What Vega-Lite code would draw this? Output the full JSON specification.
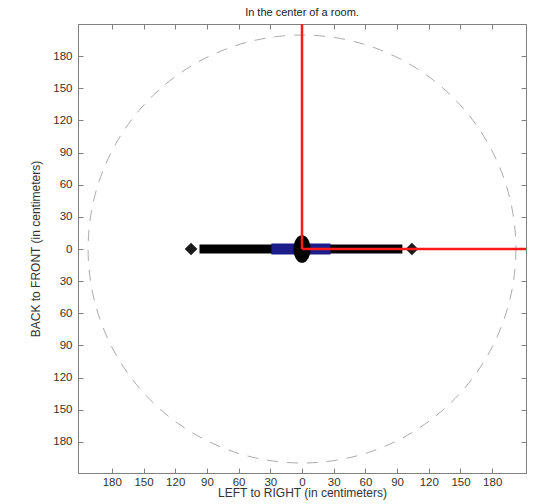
{
  "$schema": "https://vega.github.io/schema/vega-lite/v6.json",
  "width": 448,
  "height": 449,
  "autosize": "none",
  "padding": {"left": 78, "top": 24, "right": 7, "bottom": 31},
  "background": "white",
  "title": {"text": "In the center of a room.", "fontSize": 11, "fontWeight": "normal", "font": "Liberation Sans", "color": "#222222", "offset": 6},
  "config": {
    "view": {"stroke": "#808080", "strokeWidth": 1},
    "axis": {
      "domainColor": "#808080",
      "tickColor": "#808080",
      "labelColor": "#333333",
      "labelFont": "Liberation Sans",
      "labelFontSize": 11.5,
      "titleFont": "Liberation Sans",
      "titleFontSize": 12,
      "titleFontWeight": "normal",
      "titleColor": "#333333",
      "grid": false,
      "tickSize": -5
    }
  },
  "datasets": {
    "segs": [
      {"part": "body", "x": -97, "x2": 95, "y": 0, "y2": 0},
      {"part": "base", "x": -29, "x2": 27, "y": 0, "y2": 0}
    ],
    "axes": [
      {"x": 0, "y": 0, "x2": 0, "y2": 210},
      {"x": 0, "y": 0, "x2": 212, "y2": 0}
    ],
    "ends": [
      {"x": -105, "y": 0},
      {"x": 104, "y": 0}
    ],
    "center": [
      {"x": 0, "y": 0}
    ]
  },
  "resolve": {"axis": {"x": "independent", "y": "independent"}},
  "layer": [
    {
      "data": {"name": "center"},
      "mark": {"type": "point", "shape": "circle", "filled": false, "size": 183000, "stroke": "#888888", "strokeWidth": 1, "strokeDash": [11, 9], "clip": true},
      "encoding": {
        "x": {"field": "x", "type": "quantitative", "scale": {"domain": [-212, 212], "nice": false, "zero": false},
          "axis": {"values": [-180, -150, -120, -90, -60, -30, 0, 30, 60, 90, 120, 150, 180], "labelExpr": "abs(datum.value)", "title": "LEFT to RIGHT (in centimeters)", "labelPadding": 8, "titlePadding": 0}},
        "y": {"field": "y", "type": "quantitative", "scale": {"domain": [-209, 210], "nice": false, "zero": false},
          "axis": {"values": [-180, -150, -120, -90, -60, -30, 0, 30, 60, 90, 120, 150, 180], "labelExpr": "abs(datum.value)", "title": "BACK to FRONT (in centimeters)", "labelPadding": 11, "titlePadding": 10}}
      }
    },
    {
      "data": {"name": "segs"},
      "transform": [{"filter": "datum.part == 'body'"}],
      "mark": {"type": "rule", "color": "#000000", "strokeWidth": 9},
      "encoding": {
        "x": {"field": "x", "type": "quantitative", "axis": null},
        "x2": {"field": "x2"},
        "y": {"field": "y", "type": "quantitative", "axis": null}
      }
    },
    {
      "data": {"name": "ends"},
      "mark": {"type": "point", "shape": "diamond", "filled": true, "color": "#1a1a1a", "size": 160, "opacity": 1},
      "encoding": {
        "x": {"field": "x", "type": "quantitative", "axis": null},
        "y": {"field": "y", "type": "quantitative", "axis": null}
      }
    },
    {
      "data": {"name": "segs"},
      "transform": [{"filter": "datum.part == 'base'"}],
      "mark": {"type": "rule", "color": "#1c1c8a", "strokeWidth": 11},
      "encoding": {
        "x": {"field": "x", "type": "quantitative", "axis": null},
        "x2": {"field": "x2"},
        "y": {"field": "y", "type": "quantitative", "axis": null}
      }
    },
    {
      "data": {"name": "center"},
      "mark": {"type": "point", "shape": "M0,-1 A0.62,1 0 1,1 0,1 A0.62,1 0 1,1 0,-1 Z", "filled": true, "color": "#000000", "size": 760, "opacity": 1},
      "encoding": {
        "x": {"field": "x", "type": "quantitative", "axis": null},
        "y": {"field": "y", "type": "quantitative", "axis": null}
      }
    },
    {
      "data": {"name": "axes"},
      "mark": {"type": "rule", "color": "#ff1a1a", "strokeWidth": 2.5, "clip": true},
      "encoding": {
        "x": {"field": "x", "type": "quantitative", "axis": null},
        "x2": {"field": "x2"},
        "y": {"field": "y", "type": "quantitative", "axis": null},
        "y2": {"field": "y2"}
      }
    },
    {
      "data": {"name": "center"},
      "mark": {"type": "point", "opacity": 0},
      "encoding": {
        "x": {"field": "x", "type": "quantitative",
          "axis": {"orient": "top", "values": [-180, -150, -120, -90, -60, -30, 0, 30, 60, 90, 120, 150, 180], "labels": false, "title": null}},
        "y": {"field": "y", "type": "quantitative",
          "axis": {"orient": "right", "values": [-180, -150, -120, -90, -60, -30, 0, 30, 60, 90, 120, 150, 180], "labels": false, "title": null}}
      }
    }
  ]
}
